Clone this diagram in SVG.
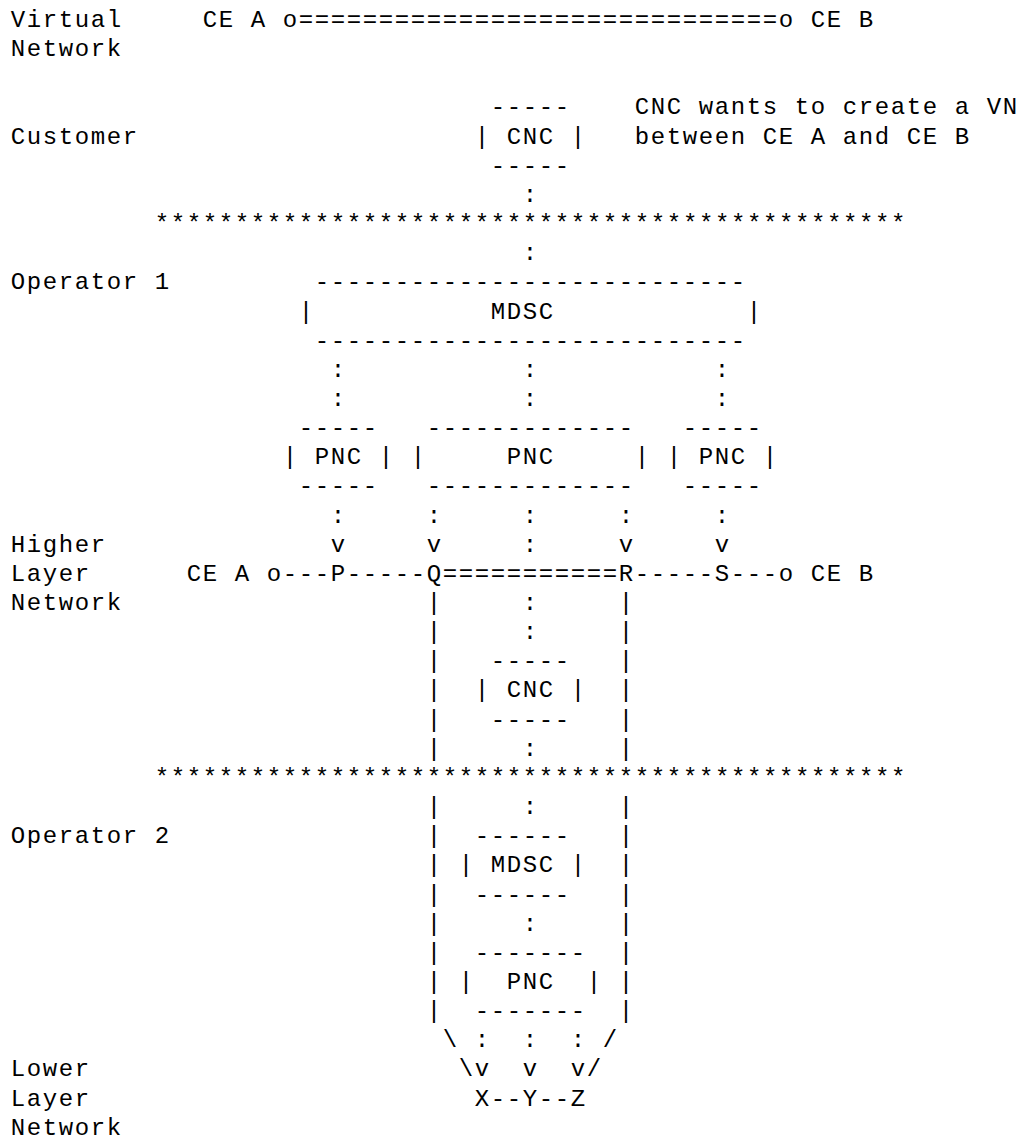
<svg xmlns="http://www.w3.org/2000/svg" width="1023" height="1144" viewBox="0 0 1023 1144" xml:space="preserve">
<style>
text{font-family:'Courier New','Liberation Mono',monospace;font-size:24px;letter-spacing:1.6px;fill:#000;white-space:pre}
</style>
<rect width="1023" height="1144" fill="#fff"/>
<g transform="translate(0.8,0)">
<g id="layer-labels">
<text x="10" y="27">Virtual</text>
<text x="10" y="56.15">Network</text>
<text x="10" y="143.6">Customer</text>
<text x="10" y="289.35">Operator 1</text>
<text x="10" y="551.7">Higher</text>
<text x="10" y="580.85">Layer</text>
<text x="10" y="610">Network</text>
<text x="10" y="843.2">Operator 2</text>
<text x="10" y="1076.4">Lower</text>
<text x="10" y="1105.55">Layer</text>
<text x="10" y="1134.7">Network</text>
</g>
<g id="virtual-network">
<text x="202" y="27">CE A o</text>
<text x="298" y="27">==============================</text>
<text x="778" y="27">o CE B</text>
</g>
<g id="cnc-customer">
<text x="490" y="114.45">-----</text>
<text x="474" y="143.6">| CNC |</text>
<text x="490" y="172.75">-----</text>
</g>
<g id="cnc-note">
<text x="634" y="114.45">CNC wants to create a VN</text>
<text x="634" y="143.6">between CE A and CE B</text>
</g>
<g id="boundaries">
<text x="154" y="231.05">***********************************************</text>
<text x="154" y="784.9">***********************************************</text>
</g>
<g id="mdsc-operator1">
<text x="314" y="289.35">---------------------------</text>
<text x="298" y="318.5">|</text>
<text x="490" y="318.5">MDSC</text>
<text x="746" y="318.5">|</text>
<text x="314" y="347.65">---------------------------</text>
</g>
<g id="pnc-1a">
<text x="298" y="435.1">-----</text>
<text x="282" y="464.25">| PNC |</text>
<text x="298" y="493.4">-----</text>
</g>
<g id="pnc-1b">
<text x="426" y="435.1">-------------</text>
<text x="410" y="464.25">|</text>
<text x="506" y="464.25">PNC</text>
<text x="634" y="464.25">|</text>
<text x="426" y="493.4">-------------</text>
</g>
<g id="pnc-1c">
<text x="682" y="435.1">-----</text>
<text x="666" y="464.25">| PNC |</text>
<text x="682" y="493.4">-----</text>
</g>
<g id="higher-layer-network">
<text x="186" y="580.85">CE A o</text>
<text x="282" y="580.85">---</text>
<text x="330" y="580.85">P</text>
<text x="346" y="580.85">-----</text>
<text x="426" y="580.85">Q</text>
<text x="442" y="580.85">===========</text>
<text x="618" y="580.85">R</text>
<text x="634" y="580.85">-----</text>
<text x="714" y="580.85">S</text>
<text x="730" y="580.85">---</text>
<text x="778" y="580.85">o CE B</text>
</g>
<g id="cnc-operator1">
<text x="490" y="668.3">-----</text>
<text x="474" y="697.45">| CNC |</text>
<text x="490" y="726.6">-----</text>
</g>
<g id="mdsc-operator2">
<text x="474" y="843.2">------</text>
<text x="458" y="872.35">| MDSC |</text>
<text x="474" y="901.5">------</text>
</g>
<g id="pnc-operator2">
<text x="474" y="959.8">-------</text>
<text x="458" y="988.95">|</text>
<text x="506" y="988.95">PNC</text>
<text x="586" y="988.95">|</text>
<text x="474" y="1018.1">-------</text>
</g>
<g id="lower-layer-network">
<text x="474" y="1105.55">X</text>
<text x="490" y="1105.55">--</text>
<text x="522" y="1105.55">Y</text>
<text x="538" y="1105.55">--</text>
<text x="570" y="1105.55">Z</text>
</g>
<g id="connectors">
<text x="522" y="201.9">:</text>
<text x="522" y="260.2">:</text>
<text x="330" y="376.8">:</text><text x="522" y="376.8">:</text><text x="714" y="376.8">:</text>
<text x="330" y="405.95">:</text><text x="522" y="405.95">:</text><text x="714" y="405.95">:</text>
<text x="330" y="522.55">:</text><text x="426" y="522.55">:</text><text x="522" y="522.55">:</text><text x="618" y="522.55">:</text><text x="714" y="522.55">:</text>
<text x="330" y="551.7">v</text><text x="426" y="551.7">v</text><text x="522" y="551.7">:</text><text x="618" y="551.7">v</text><text x="714" y="551.7">v</text>
<text x="522" y="610">:</text>
<text x="522" y="639.15">:</text>
<text x="522" y="755.75">:</text>
<text x="522" y="814.05">:</text>
<text x="522" y="930.65">:</text>
<text x="426" y="610">|</text><text x="618" y="610">|</text>
<text x="426" y="639.15">|</text><text x="618" y="639.15">|</text>
<text x="426" y="668.3">|</text><text x="618" y="668.3">|</text>
<text x="426" y="697.45">|</text><text x="618" y="697.45">|</text>
<text x="426" y="726.6">|</text><text x="618" y="726.6">|</text>
<text x="426" y="755.75">|</text><text x="618" y="755.75">|</text>
<text x="426" y="814.05">|</text><text x="618" y="814.05">|</text>
<text x="426" y="843.2">|</text><text x="618" y="843.2">|</text>
<text x="426" y="872.35">|</text><text x="618" y="872.35">|</text>
<text x="426" y="901.5">|</text><text x="618" y="901.5">|</text>
<text x="426" y="930.65">|</text><text x="618" y="930.65">|</text>
<text x="426" y="959.8">|</text><text x="618" y="959.8">|</text>
<text x="426" y="988.95">|</text><text x="618" y="988.95">|</text>
<text x="426" y="1018.1">|</text><text x="618" y="1018.1">|</text>
<text x="442" y="1047.25">\</text><text x="474" y="1047.25">:</text><text x="522" y="1047.25">:</text><text x="570" y="1047.25">:</text><text x="602" y="1047.25">/</text>
<text x="458" y="1076.4">\</text><text x="474" y="1076.4">v</text><text x="522" y="1076.4">v</text><text x="570" y="1076.4">v</text><text x="586" y="1076.4">/</text>
</g>
</g>
</svg>
